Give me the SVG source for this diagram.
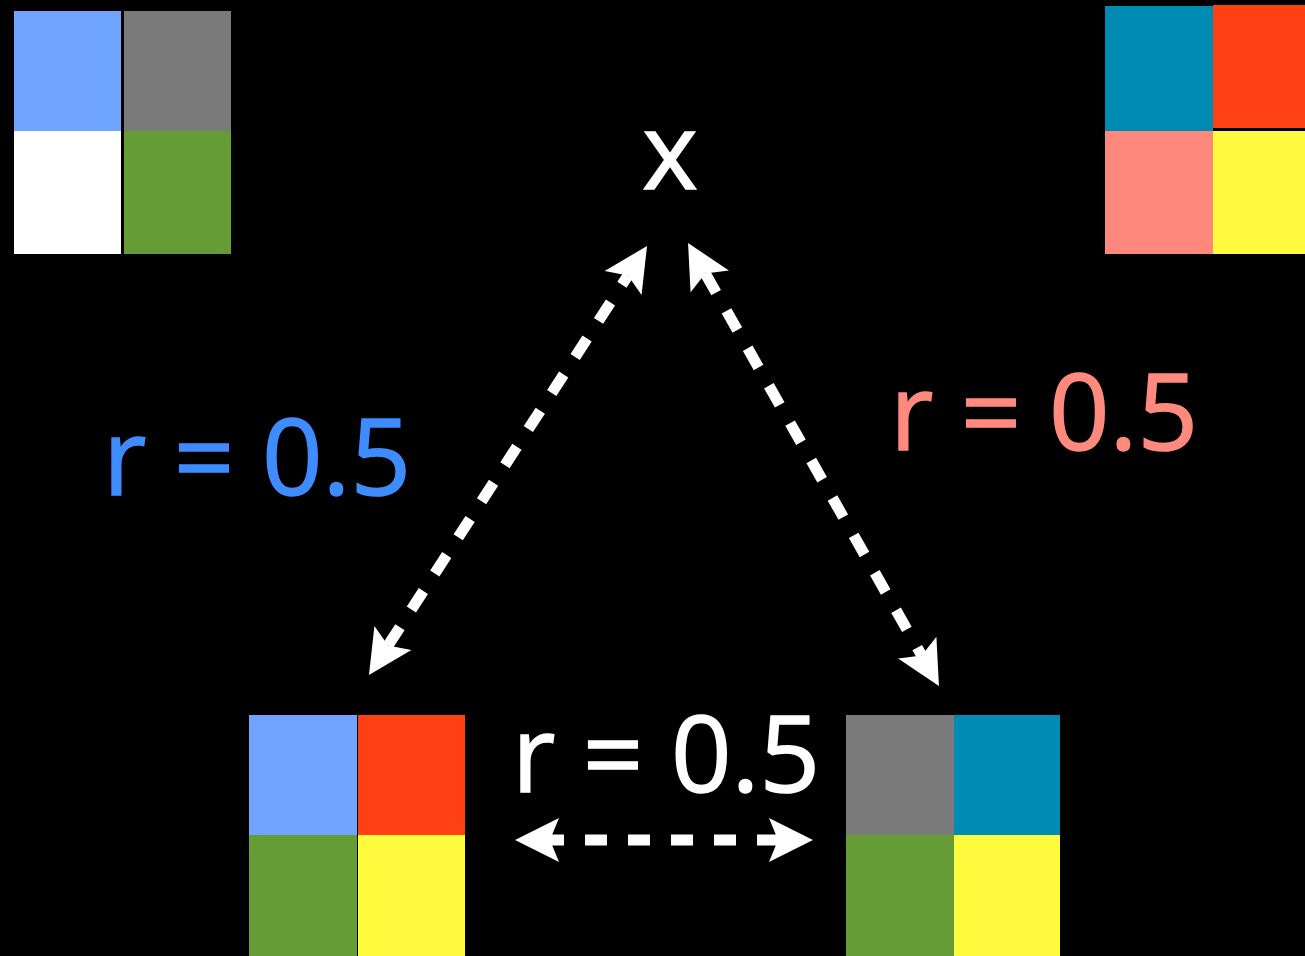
<svg xmlns="http://www.w3.org/2000/svg" width="1305" height="956" viewBox="0 0 1305 956">
<style>
.lbl{font-family:"Open Sans","Liberation Sans",sans-serif;font-size:106px;stroke-width:1.5}
.conn{fill:none;stroke:#fff;stroke-width:11;stroke-dasharray:22 21}
.lb{fill:#6FA5FF}.gr{fill:#7A7A7A}.wh{fill:#fff}.gn{fill:#659C35}
.tl{fill:#008BB2}.rd{fill:#FF4013}.sa{fill:#FF887D}.ye{fill:#FFFC40}
</style>
<defs>
<marker id="ah" markerUnits="userSpaceOnUse" viewBox="-12 -24 50 48" markerWidth="50" markerHeight="48" refX="0" refY="0" orient="auto-start-reverse">
<path d="M35,0 L-9,-22 L0,0 L-9,22 Z" fill="#fff"/>
</marker>
</defs>
<rect width="1305" height="956" fill="#000"/>
<g id="grid-top-left">
<rect class="lb" x="14" y="11" width="107" height="120"/>
<rect class="gr" x="124" y="11" width="107" height="120"/>
<rect class="wh" x="14" y="131" width="107" height="123"/>
<rect class="gn" x="124" y="131" width="107" height="123"/>
</g>
<g id="grid-top-right">
<rect class="tl" x="1105" y="6" width="108" height="125"/>
<rect class="rd" x="1213" y="5" width="92" height="123"/>
<rect class="sa" x="1105" y="131" width="108" height="123"/>
<rect class="ye" x="1213" y="131" width="92" height="123"/>
</g>
<g id="grid-bottom-left">
<rect class="lb" x="249" y="715" width="108" height="120"/>
<rect class="rd" x="358" y="715" width="107" height="120"/>
<rect class="gn" x="249" y="835" width="108" height="121"/>
<rect class="ye" x="358" y="835" width="107" height="121"/>
</g>
<g id="grid-bottom-right">
<rect class="gr" x="846" y="715" width="108" height="120"/>
<rect class="tl" x="954" y="715" width="106" height="120"/>
<rect class="gn" x="846" y="835" width="108" height="121"/>
<rect class="ye" x="954" y="835" width="106" height="121"/>
</g>
<g id="node-x">
<text class="lbl" x="670" y="189" text-anchor="middle" fill="#fff" stroke="#fff" stroke-width="4" font-size="96">x</text>
</g>
<g id="connectors">
<line class="conn" x1="388" y1="645.6" x2="628" y2="275.4" marker-start="url(#ah)" marker-end="url(#ah)"/>
<line class="conn" x1="705.3" y1="273.5" x2="921.7" y2="655.5" marker-start="url(#ah)" marker-end="url(#ah)"/>
<line class="conn" x1="550" y1="840" x2="778" y2="840" stroke-dashoffset="8" marker-start="url(#ah)" marker-end="url(#ah)"/>
</g>
<g id="labels">
<text class="lbl" x="103" y="495" fill="#3E8CFF" stroke="#3E8CFF">r = 0.5</text>
<text class="lbl" x="890" y="450" fill="#FF8A7D" stroke="#FF8A7D">r = 0.5</text>
<text class="lbl" x="512" y="792" fill="#fff" stroke="#fff">r = 0.5</text>
</g>
</svg>
